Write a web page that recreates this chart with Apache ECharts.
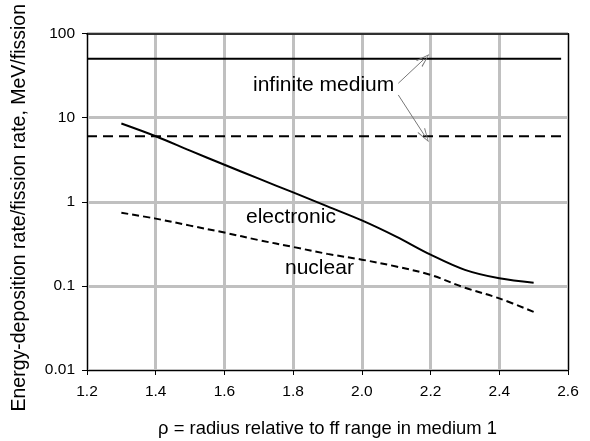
<!DOCTYPE html>
<html lang="en">
<head>
    <meta charset="UTF-8">
    <title>Energy deposition</title>
    <script type="text/javascript" src="https://cdn.jsdelivr.net/npm/echarts@6/dist/echarts.min.js"></script>
    <style>
        html, body { margin: 0; padding: 0; background: #fff; }
    </style>
</head>
<body>
<div id="chart" style="width: 590px;height:441px;"></div>
<script>

    // radius values (rho)
    var rho = [1.3, 1.4, 1.5, 1.6, 1.7, 1.8, 1.9, 2.0, 2.1, 2.2, 2.3, 2.4, 2.5];
    var electronic = [8.5, 6.0, 4.05, 2.75, 1.88, 1.29, 0.88, 0.6, 0.385, 0.235, 0.155, 0.123, 0.109];
    var nuclear = [0.74, 0.63, 0.52, 0.43, 0.35, 0.29, 0.24, 0.205, 0.17, 0.135, 0.095, 0.071, 0.049];

    // infinite medium levels
    var infRho = [1.2, 2.58];
    var infElectronic = [50, 50];
    var infNuclear = [6, 6];

    // arrow start/end points for the "infinite medium" note
    var arrowStart = [[2.106, 25.6], [2.106, 18.6]];
    var arrowEnd = [[2.182, 50], [2.184, 6]];

    var xTicks = [1.2, 2.6, 0.2];
    var yTicks = [0.01, 100];

    function pairs(xs, ys) {
        return xs.map(function (x, i) { return [x, ys[i]]; });
    }

    var font = '"Liberation Sans", Arial, sans-serif';

    var option = {
        animation: false,
        grid: { left: 87, right: 22, top: 33.5, bottom: 71, containLabel: false, outerBoundsMode: 'none' },
        xAxis: [{
            type: 'value',
            min: xTicks[0], max: xTicks[1], interval: xTicks[2],
            name: 'ρ = radius relative to ff range in medium 1',
            nameLocation: 'middle',
            nameGap: 50,
            nameTextStyle: { fontFamily: font, fontSize: 18.4, color: '#000' },
            axisLine: { lineStyle: { color: '#000', width: 1 } },
            axisTick: { show: true, inside: false, length: 5, lineStyle: { color: '#000' } },
            axisLabel: {
                margin: 14, fontFamily: font, fontSize: 15.5, color: '#000',
                formatter: function (v) { return v.toFixed(1); }
            },
            splitLine: { show: true, lineStyle: { color: '#c0c0c0', width: 3 } }
        }, {
            type: 'value', position: 'top', z: 5,
            min: xTicks[0], max: xTicks[1], interval: xTicks[2],
            axisLine: { show: true, lineStyle: { color: '#000', width: 1.5 } },
            axisTick: { show: false }, axisLabel: { show: false }, splitLine: { show: false }
        }],
        yAxis: [{
            type: 'log', logBase: 10,
            min: yTicks[0], max: yTicks[1],
            name: 'Energy-deposition rate/fission rate, MeV/fission',
            nameLocation: 'middle',
            nameGap: 57,
            nameTextStyle: { fontFamily: font, fontSize: 19.5, color: '#000', padding: [0, 12, 0, 0] },
            axisLine: { show: true, lineStyle: { color: '#000', width: 1 } },
            axisTick: { show: true, inside: false, length: 5, lineStyle: { color: '#000' } },
            axisLabel: {
                margin: 12, fontFamily: font, fontSize: 15.5, color: '#000',
                formatter: function (v) { return String(Number(v.toPrecision(1))); }
            },
            splitLine: { show: true, lineStyle: { color: '#c0c0c0', width: 3 } },
            minorSplitLine: { show: false }
        }, {
            type: 'log', logBase: 10, position: 'right', z: 5,
            min: yTicks[0], max: yTicks[1],
            axisLine: { show: true, lineStyle: { color: '#000', width: 1 } },
            axisTick: { show: false }, axisLabel: { show: false }, splitLine: { show: false }
        }],
        series: [{
            name: 'electronic',
            type: 'line',
            data: pairs(rho, electronic),
            smooth: 0.35,
            showSymbol: false,
            z: 4,
            lineStyle: { color: '#000', width: 2 }
        }, {
            name: 'nuclear',
            type: 'line',
            data: pairs(rho, nuclear),
            smooth: 0.35,
            showSymbol: false,
            z: 4,
            lineStyle: { color: '#000', width: 2, type: [7, 4] }
        }, {
            name: 'infinite electronic',
            type: 'line',
            data: pairs(infRho, infElectronic),
            showSymbol: false,
            z: 4,
            lineStyle: { color: '#000', width: 2 },
            markLine: {
                silent: true,
                symbol: ['none', 'path://M0,12 L5,0 L10,12 L8.8,12 L5,2 L1.2,12 Z'],
                symbolSize: [9, 14],
                label: { show: false },
                lineStyle: { color: '#777', width: 1, type: 'solid' },
                data: arrowStart.map(function (s, i) {
                    return [{ coord: s }, { coord: arrowEnd[i] }];
                })
            }
        }, {
            name: 'infinite nuclear',
            type: 'line',
            data: pairs(infRho, infNuclear),
            showSymbol: false,
            z: 4,
            lineStyle: { color: '#000', width: 2, type: [10, 6] }
        }],
        graphic: [{
            type: 'text', left: 253, top: 75, z: 10,
            style: { text: 'infinite medium', font: '21px ' + font, fill: '#000' }
        }, {
            type: 'text', left: 246, top: 207, z: 10,
            style: { text: 'electronic', font: '21px ' + font, fill: '#000' }
        }, {
            type: 'text', left: 285, top: 258, z: 10,
            style: { text: 'nuclear', font: '21px ' + font, fill: '#000' }
        }]
    };

    var myChart = echarts.init(document.getElementById('chart'));
    myChart.setOption(option);

</script>
</body>
</html>
